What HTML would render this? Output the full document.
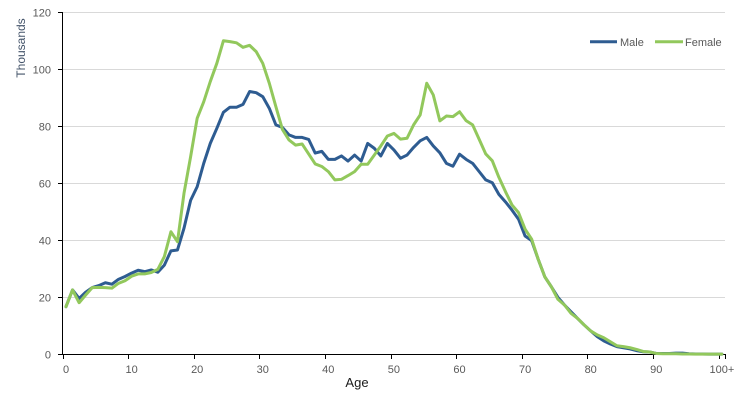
<!DOCTYPE html>
<html>
<head>
<meta charset="utf-8">
<style>
  html, body { margin: 0; padding: 0; background: #fff; }
  svg { display: block; }
  text { font-family: "Liberation Sans", Arial, sans-serif; }
</style>
</head>
<body>
<svg id="chart" width="743" height="400" viewBox="0 0 743 400" xmlns="http://www.w3.org/2000/svg">
  <rect width="743" height="400" fill="#ffffff"/>
  <!-- gridlines -->
  <g stroke="#d9d9d9" stroke-width="1">
    <line x1="62" y1="12.5" x2="725" y2="12.5"/>
    <line x1="62" y1="69.5" x2="725" y2="69.5"/>
    <line x1="62" y1="126.5" x2="725" y2="126.5"/>
    <line x1="62" y1="183.5" x2="725" y2="183.5"/>
    <line x1="62" y1="240.5" x2="725" y2="240.5"/>
    <line x1="62" y1="297.5" x2="725" y2="297.5"/>
  </g>
  <!-- axes -->
  <g stroke="#000" stroke-width="1">
    <line x1="62.5" y1="12" x2="62.5" y2="354.5"/>
    <line x1="62" y1="354.5" x2="725.5" y2="354.5"/>
    <line x1="58" y1="12.5" x2="62" y2="12.5"/>
    <line x1="58" y1="69.5" x2="62" y2="69.5"/>
    <line x1="58" y1="126.5" x2="62" y2="126.5"/>
    <line x1="58" y1="183.5" x2="62" y2="183.5"/>
    <line x1="58" y1="240.5" x2="62" y2="240.5"/>
    <line x1="58" y1="297.5" x2="62" y2="297.5"/>
    <line x1="58" y1="354.5" x2="62" y2="354.5"/>
  </g>
  <g id="xticks" stroke="#000" stroke-width="1"></g>
  <!-- y labels -->
  <g font-size="11" fill="#595959" text-anchor="end">
    <text x="51" y="16.5">120</text>
    <text x="51" y="73.5">100</text>
    <text x="51" y="130.5">80</text>
    <text x="51" y="187.5">60</text>
    <text x="51" y="244.5">40</text>
    <text x="51" y="301.5">20</text>
    <text x="51" y="358.5">0</text>
  </g>
  <!-- x labels -->
  <g font-size="11" fill="#595959" text-anchor="middle">
    <text x="66" y="373">0</text>
    <text x="131.6" y="373">10</text>
    <text x="197.2" y="373">20</text>
    <text x="262.8" y="373">30</text>
    <text x="328.3" y="373">40</text>
    <text x="393.9" y="373">50</text>
    <text x="459.5" y="373">60</text>
    <text x="525.1" y="373">70</text>
    <text x="590.7" y="373">80</text>
    <text x="656.3" y="373">90</text>
    <text x="721.9" y="373">100+</text>
  </g>
  <text x="357" y="387" font-size="13" fill="#1a1a1a" text-anchor="middle">Age</text>
  <text transform="translate(25,48) rotate(-90)" font-size="12" fill="#44546A" text-anchor="middle">Thousands</text>
  <!-- legend -->
  <line x1="590" y1="41.7" x2="617" y2="41.7" stroke="#2E5C91" stroke-width="3"/>
  <text x="620" y="46" font-size="11" fill="#595959">Male</text>
  <line x1="655" y1="41.7" x2="683" y2="41.7" stroke="#92C85C" stroke-width="3"/>
  <text x="685" y="46" font-size="11" fill="#595959">Female</text>
  <!-- series -->
  <polyline id="male" fill="none" stroke="#2E5C91" stroke-width="3" stroke-linejoin="round" stroke-linecap="round" points=""/>
  <polyline id="female" fill="none" stroke="#92C85C" stroke-width="3" stroke-linejoin="round" stroke-linecap="round" points=""/>
</svg>
<script>
(function(){
  var male=[16.7,22.6,19.6,21.8,23.4,24.1,25.1,24.6,26.3,27.3,28.5,29.5,29.0,29.6,28.8,31.3,36.3,36.6,44.3,54,58.8,67.0,74.0,79.3,84.9,86.7,86.7,87.7,92.2,91.8,90.4,86.3,80.5,79.6,77.0,76.1,76.1,75.4,70.6,71.2,68.4,68.4,69.6,67.8,69.9,67.8,74.0,72.3,69.6,74.0,71.7,68.8,69.9,72.6,74.9,76.1,73.1,70.7,67.0,66.0,70.2,68.4,67.0,64.1,61.2,60.2,56.1,53.5,50.6,47.4,41.5,39.9,33.3,27.2,23.7,20.0,17.3,14.9,12.6,10.3,8.2,6.2,4.7,3.6,2.7,2.3,1.9,1.3,0.9,0.8,0.3,0.3,0.3,0.4,0.4,0.2,0.1,0.1,0.05,0.05,0.05];
  var female=[16.7,22.6,18.1,20.8,23.4,23.5,23.4,23.2,24.9,25.8,27.4,28.2,28.2,28.7,29.8,34.3,43.0,39.5,56.6,69.3,82.8,88.6,95.7,102.1,110.0,109.7,109.3,107.7,108.4,106.2,102.1,95.1,86.9,78.9,75.2,73.4,73.8,70.3,66.8,65.9,64.1,61.2,61.4,62.7,64.1,66.7,66.7,69.9,73.1,76.6,77.5,75.5,75.8,80.5,84.0,95.1,91.0,81.9,83.6,83.4,85.1,82.0,80.5,75.4,70.3,67.9,62.1,57.1,52.4,49.7,43.9,40.4,33.3,27.2,23.7,19.3,17.3,14.4,12.6,10.3,8.2,6.8,5.8,4.4,3.0,2.7,2.3,1.7,1.0,0.8,0.3,0.2,0.2,0.2,0.1,0.1,0.05,0.05,0.05,0.05,0.05];
  function pts(a){
    var s=[];
    for(var i=0;i<a.length;i++){
      var x=62.7+(i+0.5)*6.559, y=354.3-a[i]*2.85;
      s.push(x.toFixed(2)+","+y.toFixed(2));
    }
    return s.join(" ");
  }
  document.getElementById("male").setAttribute("points",pts(male));
  document.getElementById("female").setAttribute("points",pts(female));
  var g=document.getElementById("xticks"), ns="http://www.w3.org/2000/svg";
  var xs=[];
  for(var k=0;k<=100;k+=10){ xs.push(62.7+k*6.559); }
  xs.push(725.2);
  for(var j=0;j<xs.length;j++){
    var l=document.createElementNS(ns,"line");
    var xx=Math.round(xs[j])+0.5;
    l.setAttribute("x1",xx); l.setAttribute("x2",xx);
    l.setAttribute("y1",354); l.setAttribute("y2",359);
    g.appendChild(l);
  }
})();
</script>
</body>
</html>
